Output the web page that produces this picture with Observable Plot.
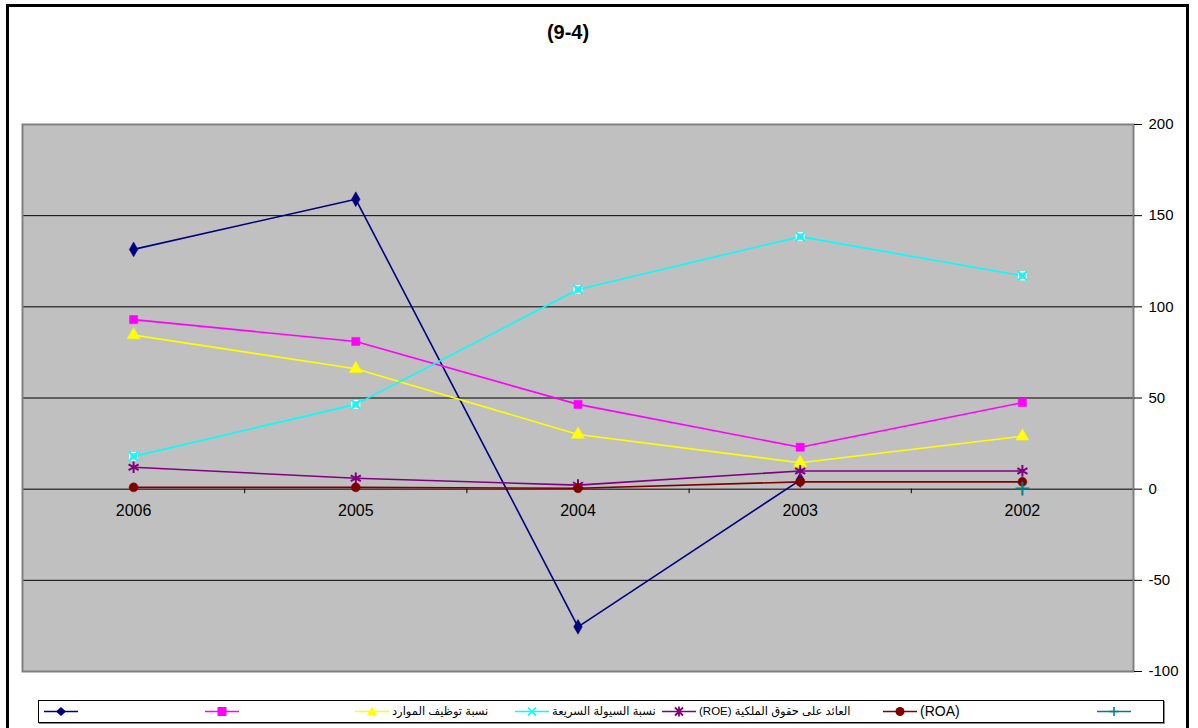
<!DOCTYPE html>
<html>
<head>
<meta charset="utf-8">
<script src="https://cdn.jsdelivr.net/npm/d3@7"></script>
<script src="https://cdn.jsdelivr.net/npm/@observablehq/plot@0.6"></script>
<style>
  html, body { margin: 0; padding: 0; background: #fff; }
  #wrap { position: relative; width: 1198px; height: 728px; overflow: hidden; font-family: Arial, "Liberation Sans", "DejaVu Sans", sans-serif; }
  #outer { position: absolute; left: 6px; top: 4px; width: 1177px; height: 740px; border: 3px solid #000; border-bottom: none; box-sizing: content-box; }
  #title { position: absolute; left: 0; width: 1136px; top: 21px; text-align: center; font-weight: bold; font-size: 20px; color: #000; }
  #chart { position: absolute; left: 0; top: 0; }
  #legend { position: absolute; left: 38px; top: 700px; width: 1124px; height: 21px; border: 1px solid #000; background: #fff; box-shadow: 1px 1px 0 #888; }
  .li { position: absolute; top: 0; height: 21px; }
  .lt { position: absolute; top: 2px; font-size: 11.5px; line-height: 17px; white-space: nowrap; color: #000; }
  .lt.latin { font-size: 14px; }
</style>
</head>
<body>
<div id="wrap">
  <div id="outer"></div>
  <div id="chart"></div>
  <div id="title">(9-4)</div>
  <div id="legend"></div>
</div>
<script>
// ---- data ----
const years = ["2006", "2005", "2004", "2003", "2002"];
const seriesNavy = [131.5, 159, -75.5, 5, null];
const seriesMagenta = [93, 81, 46.5, 23, 47.5];
const resourceUtilization = [84.5, 66, 30, 14.5, 29];   // نسبة توظيف الموارد
const quickLiquidity = [18, 46.5, 109.5, 138.5, 117];   // نسبة السيولة السريعة
const roe = [12, 6, 2.2, 10, 10];                        // (ROE)
const roa = [1, 1, 0.5, 4, 4];                           // (ROA)
const seriesTeal = [null, null, null, null, 0.3];
const yTicks = [-100, -50, 0, 50, 100, 150, 200];
const legendLabels = ["", "", "نسبة توظيف الموارد", "نسبة السيولة السريعة", "العائد على حقوق الملكية (ROE)", "(ROA)", ""];

// ---- styles ----
const styles = [
  {values: seriesNavy, color: "#000080", symbol: "diamond", filled: true, r: 4.5},
  {values: seriesMagenta, color: "#FF00FF", symbol: "square", filled: true, r: 4.6},
  {values: resourceUtilization, color: "#FFFF00", symbol: "triangle", filled: true, r: 4.8},
  {values: quickLiquidity, color: "#00FFFF", symbol: "times", filled: false, r: 4.2, box: true},
  {values: roe, color: "#800080", symbol: "asterisk", filled: false, r: 5.5},
  {values: roa, color: "#800000", symbol: "circle", filled: true, r: 4.5},
  {values: seriesTeal, color: "#008080", symbol: "plus", filled: false, r: 4.5}
];

const rowsOf = (vals) => vals.map((v, i) => ({x: i, y: v == null ? undefined : v}));

const marks = [
  Plot.frame({fill: "#C0C0C0", stroke: "none"}),
  Plot.ruleY(yTicks.filter(t => t > -100 && t < 200), {stroke: "#000", strokeWidth: 1}),
  Plot.frame({stroke: "#808080", strokeWidth: 2}),
  Plot.ruleX(years.slice(1).map((_, i) => i + 0.5), {y1: 0, y2: -2.5, stroke: "#000", strokeWidth: 1}),
  Plot.text(years, {x: (d, i) => i, y: 0, dy: 22, text: d => d, fontSize: 16, fill: "#000"})
];
for (const s of styles) {
  const rows = rowsOf(s.values);
  const pts = rows.filter(d => d.y !== undefined);
  marks.push(Plot.line(rows, {x: "x", y: "y", stroke: s.color, strokeWidth: 1.6}));
  if (s.box) marks.push(Plot.dot(pts, {x: "x", y: "y", symbol: "square2", r: 5, stroke: "#fff", strokeWidth: 1, fill: "none"}));
  marks.push(Plot.dot(pts, {
    x: "x", y: "y", symbol: s.symbol, r: s.r,
    fill: s.filled ? s.color : "none", stroke: s.color, strokeWidth: s.filled ? 0.5 : 2
  }));
}
marks.push(Plot.axisY({anchor: "right", ticks: yTicks, tickSize: 8, tickPadding: 7, fontSize: 15, tickFormat: d => String(d), label: null, stroke: "#000", fill: "#000"}));

const chart = Plot.plot({
  width: 1198, height: 728,
  marginLeft: 22, marginRight: 65, marginTop: 124, marginBottom: 57,
  x: {domain: [-0.5, 4.5], axis: null},
  y: {domain: [-100, 200], axis: null},
  style: {fontFamily: "Arial, 'Liberation Sans', sans-serif", background: "transparent", color: "#000"},
  marks
});
document.getElementById("chart").appendChild(chart);

// ---- legend ----
const legendX = [44, 205, 355, 515, 662, 883, 1097];
const legend = document.getElementById("legend");
const shape = (s) => {
  const c = s.color;
  switch (s.symbol) {
    case "diamond": return `<path d="M17,6 L22,10.5 L17,15 L12,10.5Z" fill="${c}"/>`;
    case "square": return `<rect x="12.5" y="6" width="9" height="9" fill="${c}"/>`;
    case "triangle": return `<path d="M17,5.5 L22,14.5 L12,14.5Z" fill="${c}"/>`;
    case "times": return `<path d="M13,6.5 L21,14.5 M21,6.5 L13,14.5" stroke="${c}" stroke-width="1.6"/>`;
    case "asterisk": return `<path d="M13,6.5 L21,14.5 M21,6.5 L13,14.5 M17,5.5 L17,15.5" stroke="${c}" stroke-width="1.8"/>`;
    case "circle": return `<circle cx="17" cy="10.5" r="4.5" fill="${c}"/>`;
    case "plus": return `<path d="M12.5,10.5 L21.5,10.5 M17,6 L17,15" stroke="${c}" stroke-width="1.6"/>`;
  }
};
styles.forEach((s, k) => {
  const x = legendX[k] - 39;
  const item = document.createElement("div");
  item.className = "li";
  item.style.left = x + "px";
  item.innerHTML = `<svg width="34" height="21" style="position:absolute;left:0;top:0"><line x1="0" x2="34" y1="10.5" y2="10.5" stroke="${s.color}" stroke-width="1.6"/>${shape(s)}</svg>`;
  legend.appendChild(item);
  const label = legendLabels[k];
  if (label) {
    const t = document.createElement("span");
    t.className = /[\u0600-\u06FF]/.test(label) ? "lt" : "lt latin";
    t.setAttribute("dir", "rtl");
    t.style.left = (x + 37) + "px";
    t.textContent = label;
    legend.appendChild(t);
  }
});
</script>
</body>
</html>
